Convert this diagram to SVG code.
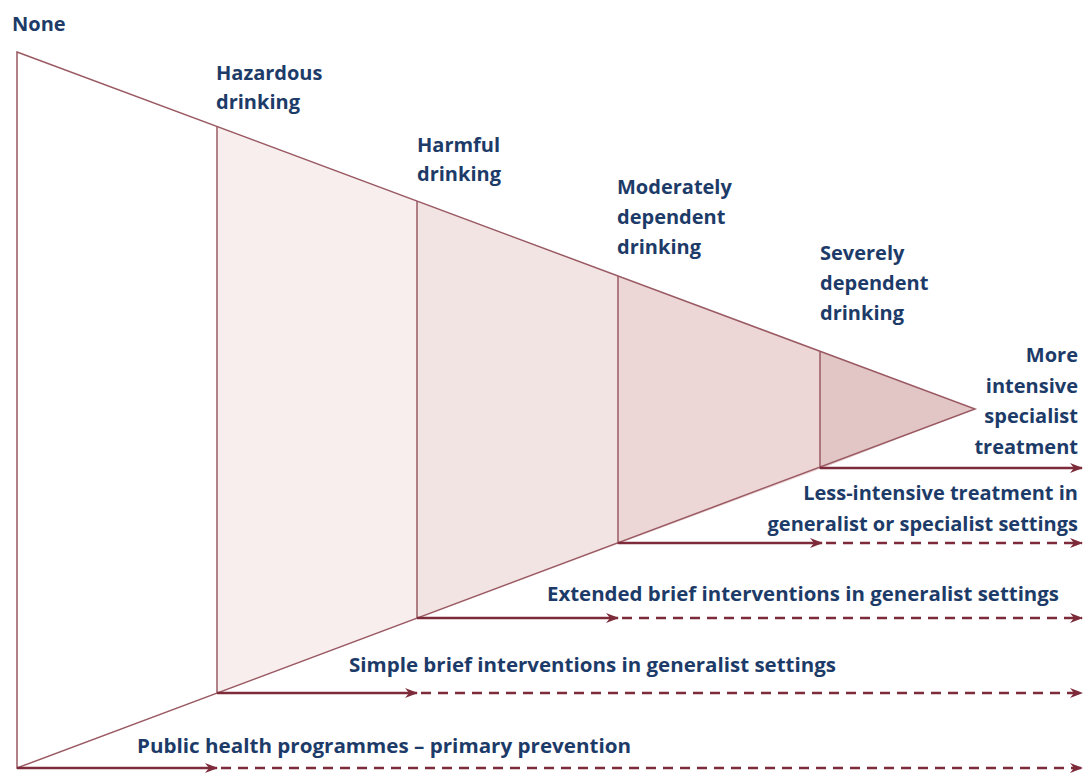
<svg xmlns="http://www.w3.org/2000/svg" width="1084" height="773" viewBox="0 0 1084 773">
<defs>
<style>
.t{font-family:"Open Sans","Liberation Sans",sans-serif;font-weight:700;font-size:20px;fill:#1d3b68}
.r{text-anchor:end}
.edge{stroke:#9a5a63;stroke-width:1.5;fill:none}
.sol{stroke:#7d2b3a;stroke-width:2.5;fill:none}
.dash{stroke:#7d2b3a;stroke-width:2.5;fill:none;stroke-dasharray:10 7}
</style>
<marker id="ah" markerWidth="14" markerHeight="10" refX="12" refY="5" orient="auto" markerUnits="userSpaceOnUse">
<path d="M0,0 L13,5 L0,10 L4,5 z" fill="#7d2b3a"/>
</marker>
</defs>
<rect width="1084" height="773" fill="#ffffff"/>
<g id="triangle">
<polygon points="217,126.5 417,201 417,619 217,693.5" fill="#f8eeee"/>
<polygon points="417,201 618,276 618,544 417,619" fill="#f3e4e4"/>
<polygon points="618,276 820,351 820,469 618,544" fill="#ecd6d6"/>
<polygon points="820,351 975,409 820,469" fill="#e2c6c6"/>
<polygon class="edge" points="17,52 975,409 17,768"/>
<line class="edge" x1="217" y1="126.5" x2="217" y2="693.5"/>
<line class="edge" x1="417" y1="201" x2="417" y2="619"/>
<line class="edge" x1="618" y1="276" x2="618" y2="544"/>
<line class="edge" x1="820" y1="351" x2="820" y2="469"/>
</g>
<g id="connectors">
<line class="sol" x1="17" y1="768" x2="217" y2="768" marker-end="url(#ah)"/>
<line class="dash" x1="221" y1="768" x2="1082" y2="768" marker-end="url(#ah)"/>
<line class="sol" x1="217" y1="693" x2="417" y2="693" marker-end="url(#ah)"/>
<line class="dash" x1="421" y1="693" x2="1082" y2="693" marker-end="url(#ah)"/>
<line class="sol" x1="417" y1="618" x2="618" y2="618" marker-end="url(#ah)"/>
<line class="dash" x1="622" y1="618" x2="1082" y2="618" marker-end="url(#ah)"/>
<line class="sol" x1="618" y1="543" x2="822" y2="543" marker-end="url(#ah)"/>
<line class="dash" x1="826" y1="543" x2="1082" y2="543" marker-end="url(#ah)"/>
<line class="sol" x1="820" y1="468" x2="1082" y2="468" marker-end="url(#ah)"/>
</g>
<g id="label-none"><text class="t" x="12" y="31">None</text></g>
<g id="label-hazardous"><text class="t" x="216" y="80">Hazardous</text><text class="t" x="216" y="109">drinking</text></g>
<g id="label-harmful"><text class="t" x="417" y="152">Harmful</text><text class="t" x="417" y="181">drinking</text></g>
<g id="label-moderate"><text class="t" x="617" y="194">Moderately</text><text class="t" x="617" y="224">dependent</text><text class="t" x="617" y="254">drinking</text></g>
<g id="label-severe"><text class="t" x="820" y="260">Severely</text><text class="t" x="820" y="290">dependent</text><text class="t" x="820" y="320">drinking</text></g>
<g id="label-intensive"><text class="t r" x="1078" y="362">More</text><text class="t r" x="1078" y="393">intensive</text><text class="t r" x="1078" y="423">specialist</text><text class="t r" x="1078" y="454">treatment</text></g>
<g id="label-less"><text class="t r" x="1078" y="500">Less-intensive treatment in</text><text class="t r" x="1078" y="531">generalist or specialist settings</text></g>
<g id="label-extended"><text class="t" x="547" y="601" textLength="512" lengthAdjust="spacingAndGlyphs">Extended brief interventions in generalist settings</text></g>
<g id="label-simple"><text class="t" x="349" y="672" textLength="487" lengthAdjust="spacingAndGlyphs">Simple brief interventions in generalist settings</text></g>
<g id="label-public"><text class="t" x="137" y="753" textLength="494" lengthAdjust="spacingAndGlyphs">Public health programmes – primary prevention</text></g>
</svg>
